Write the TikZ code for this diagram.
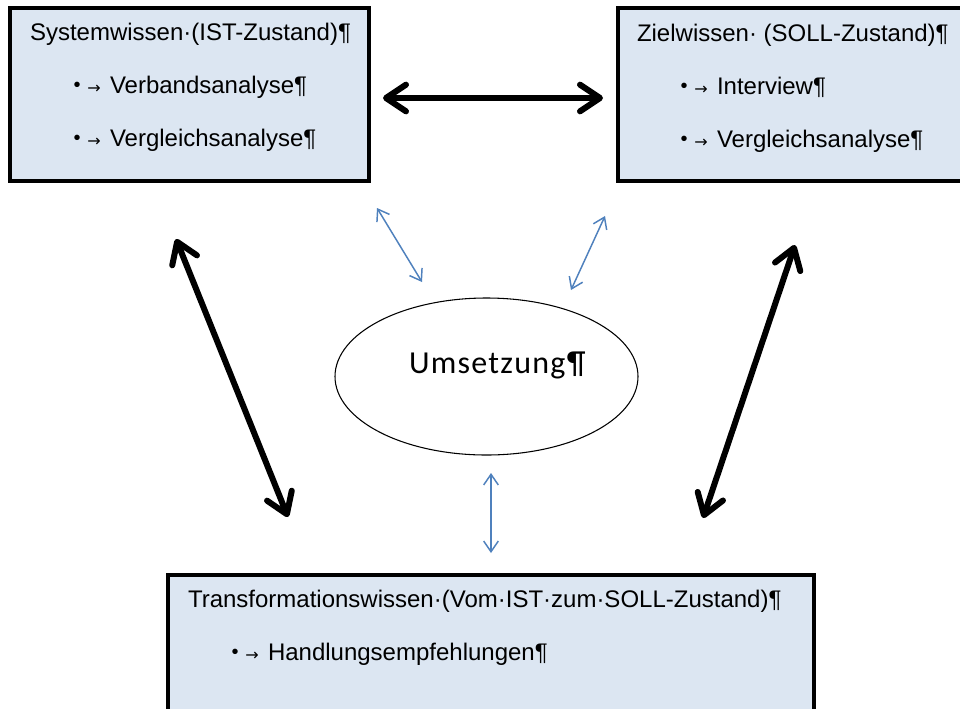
\documentclass[tikz,border=0pt]{standalone}
\usepackage{fontspec}
\setmainfont{Liberation Sans}
\newfontfamily\ellipsefont[LetterSpace=4]{Carlito}
\newfontfamily\arrowfont{DejaVu Sans}
\usetikzlibrary{arrows.meta,shapes.geometric}

\definecolor{boxfill}{HTML}{DCE6F2}
\definecolor{linkblue}{HTML}{4F81BD}

% bullet + tab arrow hanging in front of an item
\newcommand{\itembul}[1]{\llap{{\fontsize{15pt}{15pt}\selectfont\raisebox{1.5pt}{•}}\hspace{5pt}{\arrowfont\fontsize{12pt}{12pt}\selectfont →}\hspace{7pt}}#1}

\tikzset{
  panel/.style={draw=black, line width=3pt, fill=boxfill, inner sep=0pt},
  txt/.style={anchor=base west, inner sep=0pt, outer sep=0pt},
  bigarrow/.style={line width=4.5pt, line cap=round, line join=round,
    {Straight Barb[length=15pt,width=20pt,line cap=round,line join=round]}-{Straight Barb[length=15pt,width=20pt,line cap=round,line join=round]}},
  thinarrow/.style={draw=linkblue, line width=1.1pt,
    {Straight Barb[length=8pt,width=11pt]}-{Straight Barb[length=8pt,width=11pt]}},
}

\begin{document}
\begin{tikzpicture}[x=0.75pt, y=-0.75pt, font=\fontsize{18pt}{21pt}\selectfont]
\clip (0,0) rectangle (960,708);
\fill[white] (0,0) rectangle (960,708);

% the three knowledge panels
\node[panel, minimum width=359*0.75pt, minimum height=173*0.75pt] (sys) at (189,94.5) {};
\node[panel, minimum width=382*0.75pt, minimum height=173*0.75pt] (ziel) at (809,94.5) {};
\node[panel, minimum width=646*0.75pt, minimum height=185*0.75pt] (trans) at (491,667.5) {};

\node[txt] (sysT) at (30,40) {Systemwissen·(IST-Zustand)¶};
\node[txt] (sys1) at (110,93) {\itembul{Verbandsanalyse¶}};
\node[txt] (sys2) at (110,146) {\itembul{Vergleichsanalyse¶}};

\node[txt] (zielT) at (637,41) {Zielwissen· (SOLL-Zustand)¶};
\node[txt] (ziel1) at (717,94) {\itembul{Interview¶}};
\node[txt] (ziel2) at (717,147) {\itembul{Vergleichsanalyse¶}};

\node[txt] (transT) at (188,607) {Transformationswissen·(Vom·IST·zum·SOLL-Zustand)¶};
\node[txt] (trans1) at (268,660) {\itembul{Handlungsempfehlungen¶}};

% central ellipse
\node[draw=black, line width=0.8pt, ellipse, minimum width=303*0.75pt, minimum height=157*0.75pt, inner sep=0pt] (um) at (486.5,376.5) {};
\node[txt, font=\ellipsefont\fontsize{24pt}{27pt}\selectfont] (umT) at (409,373) {Umsetzung¶};

% end points of the connectors
\coordinate (h1) at (383,98);   \coordinate (h2) at (603,98);
\coordinate (l1) at (176,239);  \coordinate (l2) at (288,517);
\coordinate (r1) at (795,245);  \coordinate (r2) at (703,518);
\coordinate (b1) at (377,208);  \coordinate (b2) at (422,282);
\coordinate (c1) at (605,216);  \coordinate (c2) at (571,290);
\coordinate (d1) at (491,473);  \coordinate (d2) at (491,553);

% links between the panels
\draw[bigarrow] (h1) -- (h2);
\draw[bigarrow] (l1) -- (l2);
\draw[bigarrow] (r1) -- (r2);

% links to the ellipse
\draw[thinarrow] (b1) -- (b2);
\draw[thinarrow] (c1) -- (c2);
\draw[thinarrow] (d1) -- (d2);
\end{tikzpicture}
\end{document}
